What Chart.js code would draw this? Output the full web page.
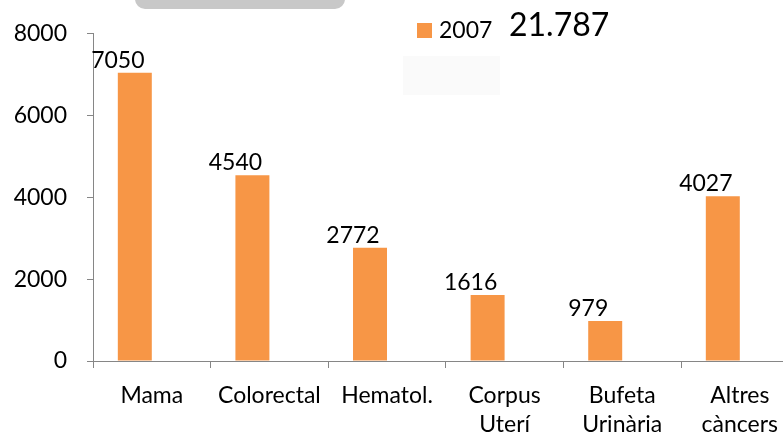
<!DOCTYPE html>
<html>
<head>
<meta charset="utf-8">
<script src="https://cdn.jsdelivr.net/npm/chart.js@4"></script>
<style>
html,body{margin:0;padding:0;background:#fff;overflow:hidden;width:783px;height:438px;}
#wrap{width:800px;height:438px;}
</style>
</head>
<body>
<div id="wrap"><canvas id="c" width="800" height="438"></canvas></div>
<script>
const categories = ["Mama", "Colorectal", "Hematol.", ["Corpus", "Uterí"], ["Bufeta", "Urinària"], ["Altres", "càncers"]];
const values2007 = [7050, 4540, 2772, 1616, 979, 4027];
const emptySeries = [null, null, null, null, null, null];
const seriesLabel = "2007";
const totalLabel = "21.787";
const yTicks = [0, 2000, 4000, 6000, 8000];

const ORANGE = "#f79646";
const AXIS = "#868686";
const FONT = "Lato";

const extras = {
  id: "extras",
  beforeDraw(chart) {
    const ctx = chart.ctx;
    ctx.save();
    ctx.fillStyle = "#c8c8c8";
    ctx.beginPath();
    ctx.roundRect(135, -12, 210, 21, 10);
    ctx.fill();
    ctx.fillStyle = "#fafafa";
    ctx.fillRect(403, 56, 97, 39);
    ctx.restore();
  },
  afterDraw(chart) {
    const ctx = chart.ctx;
    ctx.save();
    ctx.fillStyle = chart.data.datasets[0].backgroundColor;
    ctx.fillRect(417, 23, 15, 15);
    ctx.fillStyle = "#000";
    ctx.font = "23px " + FONT;
    ctx.textBaseline = "alphabetic";
    ctx.textAlign = "left";
    ctx.fillText(chart.data.datasets[0].label, 439, 38);
    ctx.font = "32px " + FONT;
    ctx.fillText(totalLabel, 509, 36);
    const meta = chart.getDatasetMeta(0);
    ctx.font = "23px " + FONT;
    ctx.textAlign = "center";
    meta.data.forEach((bar, i) => {
      const v = chart.data.datasets[0].data[i];
      ctx.fillText(String(v), bar.x - 17, bar.y - 5);
    });
    ctx.restore();
  }
};

new Chart(document.getElementById("c"), {
  type: "bar",
  data: {
    labels: categories,
    datasets: [
      { label: seriesLabel, data: values2007, backgroundColor: ORANGE, borderWidth: 0 },
      { label: "", data: emptySeries, backgroundColor: ORANGE, borderWidth: 0 }
    ]
  },
  options: {
    responsive: false,
    devicePixelRatio: 1,
    animation: false,
    categoryPercentage: 0.578,
    barPercentage: 1.0,
    layout: { padding: { top: 33, right: 1.4, left: 0, bottom: 0 } },
    plugins: {
      legend: { display: false },
      tooltip: { enabled: false },
      title: { display: false }
    },
    scales: {
      x: {
        grid: { display: true, drawOnChartArea: false, drawTicks: true, tickLength: 7, color: AXIS, offset: true },
        border: { display: true, color: AXIS, width: 1 },
        ticks: { color: "#000", font: { family: FONT, size: 23, lineHeight: 1.22 }, padding: 14, maxRotation: 0, autoSkip: false },
        afterFit(scale) { scale.height = 77; }
      },
      y: {
        min: 0, max: 8000,
        afterBuildTicks(scale) { scale.ticks = yTicks.map(v => ({ value: v })); },
        grid: { display: true, drawOnChartArea: false, drawTicks: true, tickLength: 6, color: AXIS },
        border: { display: true, color: AXIS, width: 1 },
        ticks: { color: "#000", font: { family: FONT, size: 23 }, padding: 20, callback: (v) => String(v) },
        afterFit(scale) { scale.width = 93; }
      }
    }
  },
  plugins: [extras]
});
</script>
</body>
</html>
